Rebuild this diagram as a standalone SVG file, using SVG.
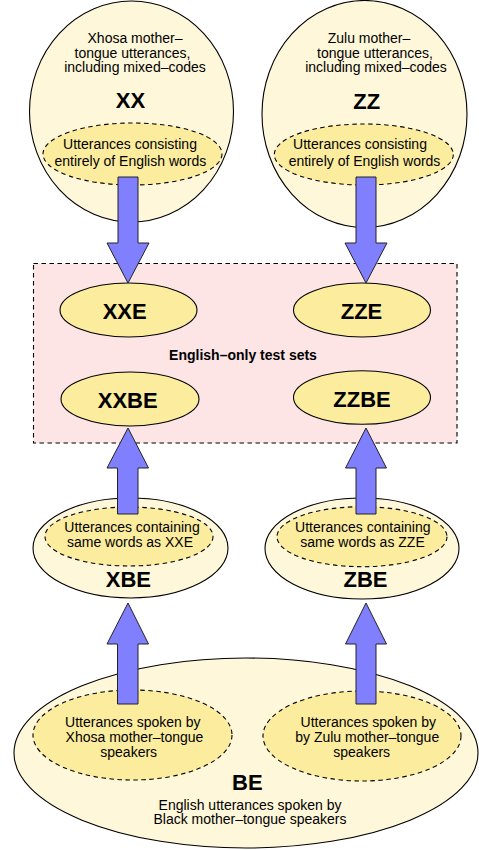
<svg xmlns="http://www.w3.org/2000/svg" width="479" height="850" viewBox="0 0 479 850">
<style>
.outer{fill:#fff7d9;stroke:#000;stroke-width:1.1}
.inner{fill:#fcec9e;stroke:#000;stroke-width:1.1;stroke-dasharray:4.5,3.5}
.set{fill:#fcec9e;stroke:#000;stroke-width:1.1}
.box{fill:#fde4e5;stroke:#000;stroke-width:1.1;stroke-dasharray:4.5,3.5}
.arrow{fill:#8080ff;stroke:#222;stroke-width:1}
text{font-family:"Liberation Sans",Arial,sans-serif;fill:#000;text-anchor:middle}
.t{font-size:14px}
.b{font-size:22px;font-weight:bold}
.h{font-size:14px;font-weight:bold}
</style>
<rect width="479" height="850" fill="#fff"/>
<g id="XX">
<ellipse class="outer" cx="131.5" cy="111.5" rx="102" ry="110.5"/>
<text class="t" x="135" y="43">Xhosa mother–</text>
<text class="t" x="132.5" y="57.5">tongue utterances,</text>
<text class="t" x="135" y="72">including mixed–codes</text>
<text class="b" x="130.5" y="108">XX</text>
<ellipse class="inner" cx="132.5" cy="154" rx="89.5" ry="31"/>
<text class="t" x="130" y="149.3">Utterances consisting</text>
<text class="t" x="130.4" y="166">entirely of English words</text>
</g>
<g id="ZZ">
<ellipse class="outer" cx="364.5" cy="114" rx="102.5" ry="113.5"/>
<text class="t" x="369" y="43">Zulu mother–</text>
<text class="t" x="375" y="57.5">tongue utterances,</text>
<text class="t" x="376" y="72">including mixed–codes</text>
<text class="b" x="366.7" y="109">ZZ</text>
<ellipse class="inner" cx="363.8" cy="154.5" rx="89.5" ry="30.5"/>
<text class="t" x="360" y="149.3">Utterances consisting</text>
<text class="t" x="364.5" y="166">entirely of English words</text>
</g>
<g id="testsets">
<rect class="box" x="33.5" y="263.5" width="423.5" height="179.5"/>
<text class="h" x="243" y="360">English–only test sets</text>
</g>
<g id="XXE">
<ellipse class="set" cx="128.5" cy="310" rx="68.5" ry="27"/>
<text class="b" x="124.7" y="319">XXE</text>
</g>
<g id="ZZE">
<ellipse class="set" cx="362" cy="310" rx="68.5" ry="27"/>
<text class="b" x="361.5" y="319">ZZE</text>
</g>
<g id="XXBE">
<ellipse class="set" cx="130" cy="399" rx="69" ry="27"/>
<text class="b" x="127.7" y="408">XXBE</text>
</g>
<g id="ZZBE">
<ellipse class="set" cx="362" cy="397.5" rx="68.5" ry="26.8"/>
<text class="b" x="362" y="407">ZZBE</text>
</g>
<g id="XBE">
<ellipse class="outer" cx="130.5" cy="548" rx="97.5" ry="50"/>
<ellipse class="inner" cx="129" cy="536.5" rx="84" ry="29.5"/>
<text class="t" x="132" y="532.3">Utterances containing</text>
<text class="t" x="130" y="547">same words as XXE</text>
<text class="b" x="128.4" y="586.7">XBE</text>
</g>
<g id="ZBE">
<ellipse class="outer" cx="362" cy="548.5" rx="97" ry="50.5"/>
<ellipse class="inner" cx="362" cy="536.7" rx="85" ry="30"/>
<text class="t" x="362.8" y="532.3">Utterances containing</text>
<text class="t" x="362.5" y="547">same words as ZZE</text>
<text class="b" x="365.5" y="587">ZBE</text>
</g>
<g id="BE">
<ellipse class="outer" cx="246" cy="753" rx="232" ry="95"/>
<ellipse class="inner" cx="132.5" cy="735" rx="99.5" ry="45"/>
<text class="t" x="132.8" y="726.7">Utterances spoken by</text>
<text class="t" x="134.5" y="741.7">Xhosa mother–tongue</text>
<text class="t" x="128.7" y="757">speakers</text>
<ellipse class="inner" cx="362" cy="736" rx="99" ry="45"/>
<text class="t" x="368.3" y="726.7">Utterances spoken by</text>
<text class="t" x="367.2" y="741.7">by Zulu mother–tongue</text>
<text class="t" x="361.7" y="757">speakers</text>
<text class="b" x="247.3" y="790">BE</text>
<text class="t" x="250" y="809.5">English utterances spoken by</text>
<text class="t" x="250" y="824">Black mother–tongue speakers</text>
</g>
<g id="connectors">
<path class="arrow" d="M118,177 H138 V243 H149 L128,283 L107,243 H118 Z"/>
<path class="arrow" d="M356,177 H376 V243 H387 L366,283 L345,243 H356 Z"/>
<path class="arrow" d="M117.5,514 V468 H107 L128,428 L148.5,468 H138 V514 Z"/>
<path class="arrow" d="M356,514 V468 H345.5 L366,428 L386.5,468 H376 V514 Z"/>
<path class="arrow" d="M117.5,704 V644 H107 L128,603 L148.5,644 H138 V704 Z"/>
<path class="arrow" d="M356,704 V644 H345.5 L366,603 L386.5,644 H376 V704 Z"/>
</g>
</svg>
